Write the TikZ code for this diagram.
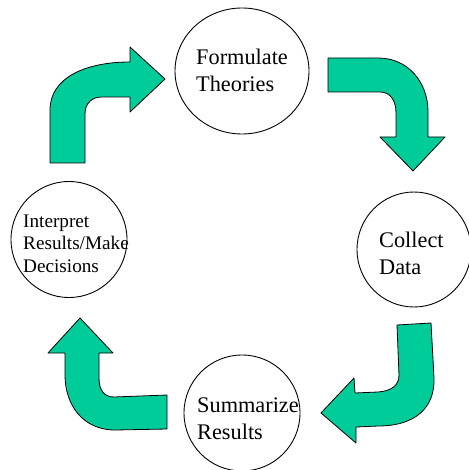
\documentclass[tikz,border=0pt]{standalone}
\usepackage{fontspec}
\setmainfont{Liberation Serif}
\usetikzlibrary{shapes.geometric}
\definecolor{arrowgreen}{HTML}{00CC99}
\tikzset{
  stage/.style={ellipse, draw=black, line width=0.9pt, fill=white, inner sep=0pt},
  big/.style={anchor=base west, inner sep=0pt, align=left, font=\fontsize{22.3}{27}\selectfont},
  small/.style={anchor=base west, inner sep=0pt, align=left, font=\fontsize{19.2}{22.5}\selectfont},
  blockarrow/.style={fill=arrowgreen, draw=black, line width=0.8pt, line join=round}
}
\begin{document}
\begin{tikzpicture}[x=1pt,y=-1pt]
\useasboundingbox (0,0) rectangle (468,470);
\fill[white] (0,0) rectangle (468,470);

% stages
\node[stage, minimum width=134pt, minimum height=126pt] (formulate) at (242,71) {};
\node[stage, minimum width=114pt, minimum height=115pt] (collect) at (414,249.5) {};
\node[stage, minimum width=116pt, minimum height=116pt] (summarize) at (242,413) {};
\node[stage, minimum width=116pt, minimum height=116pt] (interpret) at (69,239.5) {};

% labels (anchor = baseline of last line)
\node[big] (tformulate) at (196,92) {Formulate\\Theories};
\node[big] (tcollect) at (379,274.5) {Collect\\Data};
\node[big] (tsummarize) at (197,439) {Summarize\\Results};
\node[small] (tinterpret) at (23,272) {Interpret\\Results/Make\\Decisions};

% arrow: interpret -> formulate
\draw[blockarrow] (50,163) -- (50,110) .. controls (50,78) and (85,62) .. (130,62)
  -- (130,47) -- (165,79) -- (130,112) -- (130,97) -- (102,97)
  .. controls (92,97) and (85,103) .. (85,114) -- (85,163) -- cycle;

% arrow: formulate -> collect
\draw[blockarrow] (328,58) -- (378,58) .. controls (408,58) and (428,82) .. (428,112)
  -- (428,137) -- (445,137) -- (413,171) -- (380,137) -- (396,137) -- (396,113)
  .. controls (396,100) and (390,92) .. (380,92) -- (328,92) -- cycle;

% arrow: collect -> summarize
\draw[blockarrow] (397,325) -- (431,323) -- (434,378)
  .. controls (435,408) and (415,426) .. (378,426) -- (356,427) -- (356,443)
  -- (321,413) -- (354,378) -- (355,393) -- (378,392)
  .. controls (392,391) and (399,385) .. (399,375) -- cycle;

% arrow: summarize -> interpret
\draw[blockarrow] (167,395) -- (167,429) -- (115,430)
  .. controls (83,430) and (65,405) .. (65,375) -- (65,353) -- (48,353)
  -- (80,318) -- (113,353) -- (99,353) -- (99,378)
  .. controls (99,390) and (104,397) .. (114,397) -- cycle;
\end{tikzpicture}
\end{document}
